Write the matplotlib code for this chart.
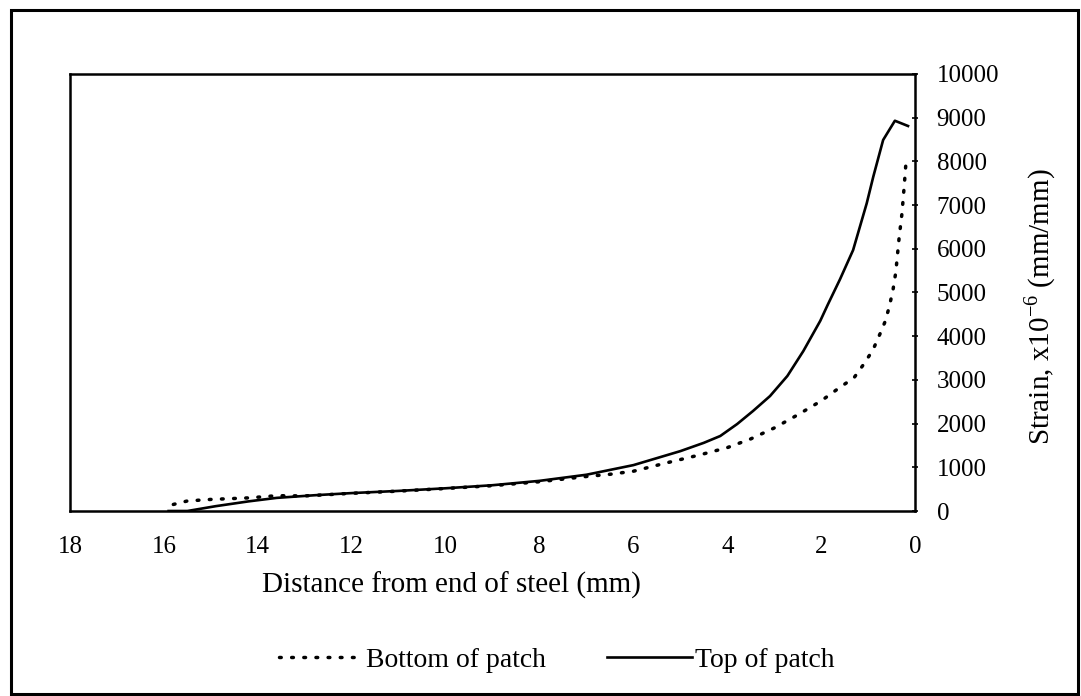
import matplotlib
matplotlib.use("Agg")
import matplotlib.pyplot as plt
from matplotlib.patches import Rectangle

plt.rcParams["font.family"] = ["Liberation Serif", "DejaVu Serif"]
plt.rcParams["mathtext.fontset"] = "custom"
plt.rcParams["mathtext.rm"] = "Liberation Serif"

# Top of patch (solid line)
dist_top = [15.9, 15.5, 14.9, 14.2, 13.6, 12.8, 12.0, 11.0, 10.0, 9.0, 8.0, 7.0,
            6.0, 5.0, 4.5, 4.15, 3.79, 3.45, 3.09, 2.72, 2.38, 2.02, 1.86, 1.6,
            1.32, 1.03, 0.89, 0.68, 0.43, 0.15]
strain_top = [0, 0, 110, 220, 300, 360, 410, 460, 520, 590, 690, 830,
              1050, 1370, 1560, 1716, 1990, 2290, 2630, 3090, 3660, 4350, 4720,
              5300, 5970, 7040, 7650, 8490, 8930, 8810]

# Bottom of patch (dotted line)
dist_bot = [15.8, 15.5, 15.0, 14.2, 13.6, 13.0, 12.0, 11.0, 10.0, 9.0, 8.0,
            7.0, 6.5, 6.0, 5.3, 4.6, 4.0, 3.5, 3.0, 2.5, 2.0, 1.6, 1.3, 1.1,
            0.9, 0.74, 0.64, 0.55, 0.47, 0.41, 0.34, 0.28, 0.23, 0.19]
strain_bot = [150, 230, 265, 300, 350, 345, 405, 455, 515, 580, 670,
              790, 840, 910, 1100, 1280, 1450, 1650, 1900, 2200, 2520, 2830,
              3050, 3350, 3680, 4070, 4330, 4670, 5060, 5470, 6250, 6800, 7450,
              8030]

x_ticks = [0, 2, 4, 6, 8, 10, 12, 14, 16, 18]
y_ticks = list(range(0, 10001, 1000))

fig = plt.figure(figsize=(10.81, 6.96), dpi=100)
ax = fig.add_axes([0.0648, 0.2658, 0.7817, 0.6279])

ax.plot(dist_bot, strain_bot, color="black", lw=2.5,
        linestyle=(0, (0.5, 3.0)), dash_capstyle="round",
        label="Bottom of patch")
ax.plot(dist_top, strain_top, color="black", lw=1.9, label="Top of patch")

ax.set_xlim(18, 0)
ax.set_ylim(0, 10000)
ax.set_xticks(x_ticks)
ax.set_yticks(y_ticks)
ax.yaxis.tick_right()
ax.tick_params(axis="x", length=0, pad=18, labelsize=18)
ax.tick_params(axis="y", length=5, direction="inout", width=1.2, pad=13,
               labelsize=18)
for sp in ax.spines.values():
    sp.set_linewidth(1.8)

fig.text(0.418, 0.159, "Distance from end of steel (mm)", ha="center",
         va="center", fontsize=21)
fig.text(0.962, 0.559, r"Strain, x10$^{\mathregular{-6}}$ (mm/mm)",
         rotation=90, ha="center", va="center", fontsize=21)

fig.legend(loc="center", bbox_to_anchor=(0.515, 0.052), ncol=2,
           frameon=False, fontsize=20, handlelength=3.05, handletextpad=0.1,
           columnspacing=2.2)

fig.patches.append(Rectangle((0.0102, 0.003), 0.987, 0.983,
                             transform=fig.transFigure, fill=False,
                             edgecolor="black", lw=2.2))

fig.savefig("out.png", dpi=100)
